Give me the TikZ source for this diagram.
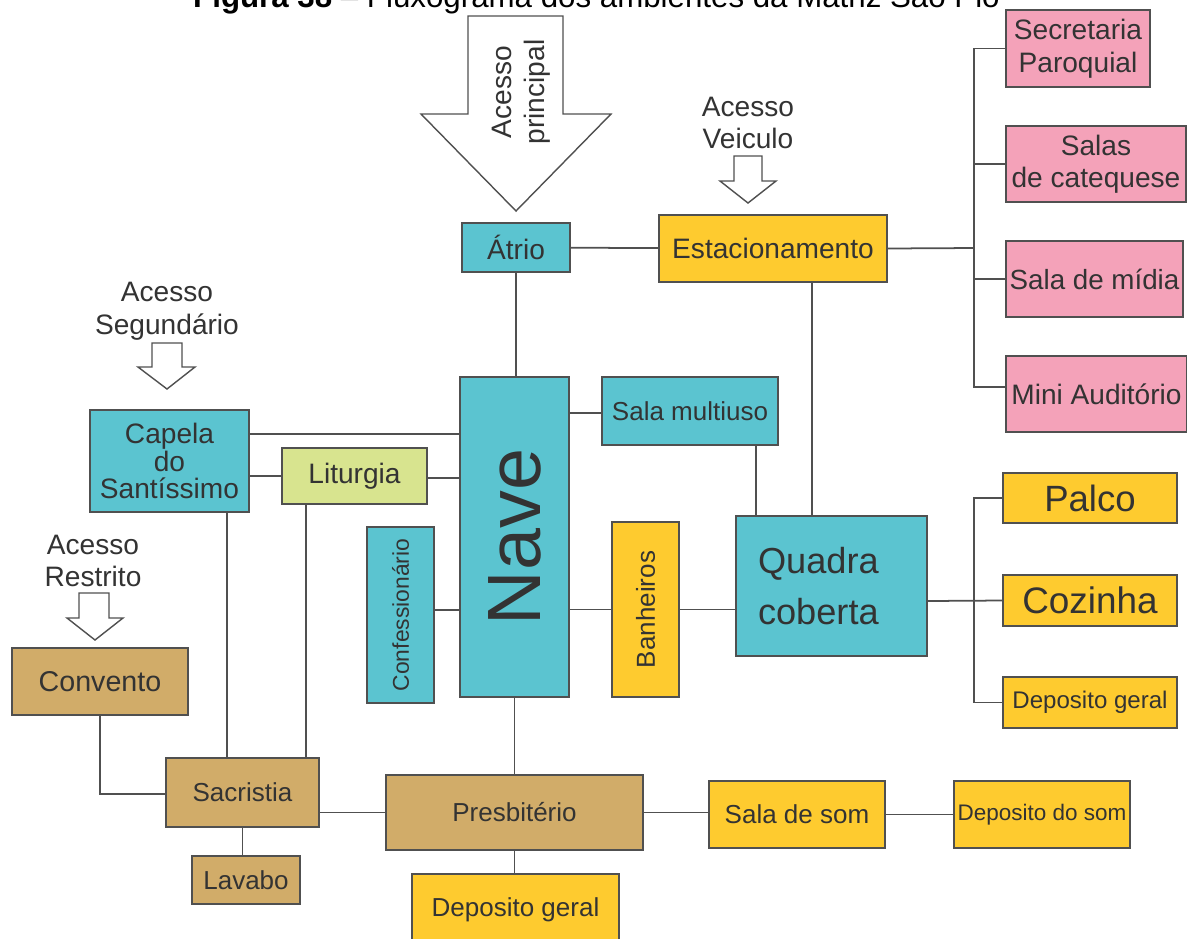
\documentclass[tikz,border=0pt]{standalone}
\usepackage{fontspec}
\setmainfont{Liberation Sans}
\usetikzlibrary{calc}

\definecolor{cAzul}{HTML}{5BC4D0}
\definecolor{cAmarelo}{HTML}{FECB2F}
\definecolor{cMarrom}{HTML}{D1AC69}
\definecolor{cRosa}{HTML}{F4A2B9}
\definecolor{cVerde}{HTML}{D8E48F}
\definecolor{borda}{HTML}{505050}
\definecolor{texto}{HTML}{333333}

\begin{document}
\begin{tikzpicture}[x=0.02cm,y=-0.02cm,
		box/.style={draw=borda,line width=1pt,inner sep=1pt,text=texto,align=center},
		lig/.style={draw=borda,line width=1pt},
		seta/.style={draw=borda,line width=0.8pt,fill=white,line join=miter},
		tam/.style 2 args={minimum width=#1cm,minimum height=#2cm},
		f16/.style={font=\fontsize{16}{18.5}\selectfont},
		f15/.style={font=\fontsize{14.8}{17}\selectfont}]
		\tikzstyle{azul}=[box,fill=cAzul]
		\tikzstyle{amarela}=[box,fill=cAmarelo]
		\tikzstyle{marrom}=[box,fill=cMarrom]
		\tikzstyle{rosa}=[box,fill=cRosa]
		\tikzstyle{verde}=[box,fill=cVerde]
		
		\useasboundingbox (0,0) rectangle (1187,938);
		\clip (0,0) rectangle (1187,938);
		
		\node[anchor=base west,font=\fontsize{17.8}{20}\selectfont] (titulo) at (187,7)
			{\textbf{Figura 38} -- Fluxograma dos ambientes da Matriz São Pio};
		
		% acessos
		\draw[seta] (468,16) -- (563,16) -- (563,114) -- (611,114) -- (516,211) -- (421,114) -- (468,114) -- cycle;
		\node[rotate=90,f16,text=texto,align=center] (acPrincipal) at (521,92) {Acesso\\principal};
		\draw[seta] (734,156) -- (762,156) -- (762,181) -- (776,181) -- (748,203) -- (720,181) -- (734,181) -- cycle;
		\node[f16,text=texto,align=center] (acVeiculo) at (748,123) {Acesso\\Veiculo};
		\draw[seta] (152,343) -- (182,343) -- (182,367) -- (195,367) -- (167,389) -- (138,367) -- (152,367) -- cycle;
		\node[f16,text=texto,align=center] (acSegundario) at (167,311) {Acesso\\Segundário};
		\draw[seta] (79,593) -- (109,593) -- (109,618) -- (123,618) -- (95,640) -- (67,618) -- (79,618) -- cycle;
		\node[f16,text=texto,align=center] (acRestrito) at (93,561) {Acesso\\Restrito};
		
		% ambientes
		\node[azul,tam={2.16}{0.98},f16]    (atrio)    at (516,247.5) {Átrio};
		\node[amarela,tam={4.56}{1.34},f16] (estac)    at (773,248.5) {Estacionamento};
		\node[rosa,tam={2.88}{1.54},f16]    (secr)     at (1078,48.5) {Secretaria\\Paroquial};
		\node[rosa,tam={3.6}{1.52},f16]     (salas)    at (1096,164)  {Salas\\de catequese};
		\node[rosa,tam={3.54}{1.52},font=\fontsize{15.8}{18}\selectfont] (midia) at (1094.5,279) {Sala de mídia};
		\node[rosa,tam={3.62}{1.52},f16]    (mini)     at (1096.5,394) {Mini Auditório};
		\node[azul,tam={3.18}{2.04},font=\fontsize{16}{15.6}\selectfont] (capela) at (169.5,461) {Capela\\do\\Santíssimo};
		\node[verde,tam={2.9}{1.12},f16]    (liturgia) at (354.5,476) {Liturgia};
		\node[azul,tam={1.34}{3.52},font=\fontsize{13}{15}\selectfont] (confess) at (400.5,615) {\rotatebox{90}{Confessionário}};
		\node[azul,tam={2.18}{6.4},font=\fontsize{43}{45}\selectfont] (nave) at (514.5,537) {\rotatebox{90}{Nave}};
		\node[azul,tam={3.52}{1.36},f15]    (multiuso) at (690,411)   {Sala multiuso};
		\node[amarela,tam={1.34}{3.5},f15]  (banheiros) at (645.5,609.5) {\rotatebox{90}{Banheiros}};
		\node[azul,tam={3.82}{2.8},inner xsep=0.44cm,text width=2.94cm,align=left,
			font=\fontsize{20.6}{29.5}\selectfont] (quadra) at (831.5,586) {Quadra\\coberta};
		\node[amarela,tam={3.48}{1.0},font=\fontsize{20.8}{22}\selectfont]  (palco)   at (1090,498)   {Palco};
		\node[amarela,tam={3.48}{1.02},font=\fontsize{21}{22}\selectfont]   (cozinha) at (1090,600.5) {Cozinha};
		\node[amarela,tam={3.48}{1.02},font=\fontsize{13.7}{15}\selectfont] (depGeral) at (1090,702.5) {Deposito geral};
		\node[marrom,tam={3.52}{1.34},font=\fontsize{16.3}{18}\selectfont] (convento) at (100,681.5) {Convento};
		\node[marrom,tam={3.06}{1.38},f15]  (sacristia) at (242.5,792.5) {Sacristia};
		\node[marrom,tam={5.14}{1.5},f15]   (presb)    at (514.5,812.5) {Presbitério};
		\node[marrom,tam={2.16}{0.96},f15]  (lavabo)   at (246,880)   {Lavabo};
		\node[amarela,tam={4.14}{1.42},f15] (depBaixo) at (515.5,909.5) {Deposito geral};
		\node[amarela,tam={3.52}{1.34},f15] (salaSom)  at (797,814.5) {Sala de som};
		\node[amarela,tam={3.52}{1.34},font=\fontsize{12.8}{15}\selectfont] (depSom) at (1042,814.5) {Deposito do som};
		
		\coordinate (barraRosa) at (974,248);
		\coordinate (barraQuadra) at (974,601);
		\coordinate (estacPe)   at ($(estac.south)+(39,0)$);
		\coordinate (multiPe)   at ($(multiuso.south)+(66,0)$);
		\coordinate (multiLado) at ($(multiuso.west)+(0,2)$);
		\coordinate (capelaLado) at ($(capela.east)+(0,-27)$);
		\coordinate (capelaPe)  at ($(capela.south)+(57.5,0)$);
		\coordinate (liturLado) at ($(liturgia.east)+(0,2)$);
		\coordinate (liturPe)   at ($(liturgia.south)+(-48.5,0)$);
		\coordinate (confLado)  at ($(confess.east)+(0,-5)$);
		
		% ligacoes
		\draw[lig] (atrio) -- (estac);
		\draw[lig] (atrio.south) -- (atrio.south |- nave.north);
		\draw[lig] (estac.east) -- (barraRosa);
		\draw[lig] (secr.west) -| (barraRosa) |- ($(mini.west)+(0,-7)$);
		\draw[lig] (salas.west) -- (salas.west -| barraRosa);
		\draw[lig] (midia.west) -- (midia.west -| barraRosa);
		\draw[lig] (estacPe) -- (estacPe |- quadra.north);
		\draw[lig] (multiLado) -- (multiLado -| nave.east);
		\draw[lig] (multiPe) -- (multiPe |- quadra.north);
		\draw[lig] (banheiros.west) -- (banheiros.west -| nave.east);
		\draw[lig] (banheiros.east) -- (banheiros.east -| quadra.west);
		\draw[lig] ($(quadra.east)+(0,15)$) -- (cozinha.west);
		\draw[lig] (palco.west) -| (barraQuadra) |- (depGeral.west);
		\draw[lig] (capelaLado) -- (capelaLado -| nave.west);
		\draw[lig] (liturgia.west) -- (liturgia.west -| capela.east);
		\draw[lig] (liturLado) -- (liturLado -| nave.west);
		\draw[lig] (confLado) -- (confLado -| nave.west);
		\draw[lig] (capelaPe) -- (capelaPe |- sacristia.north);
		\draw[lig] (liturPe) -- (liturPe |- sacristia.north);
		\draw[lig] (nave.south) -- (presb.north);
		\draw[lig] (convento.south) |- ($(sacristia.west)+(0,1.5)$);
		\draw[lig] (presb.west) -- (presb.west -| sacristia.east);
		\draw[lig] (sacristia.south) -- (sacristia.south |- lavabo.north);
		\draw[lig] (presb.south) -- (presb.south |- depBaixo.north);
		\draw[lig] (presb.east) -- (presb.east -| salaSom.west);
		\draw[lig] (salaSom) -- (depSom);
\end{tikzpicture}
\end{document}
